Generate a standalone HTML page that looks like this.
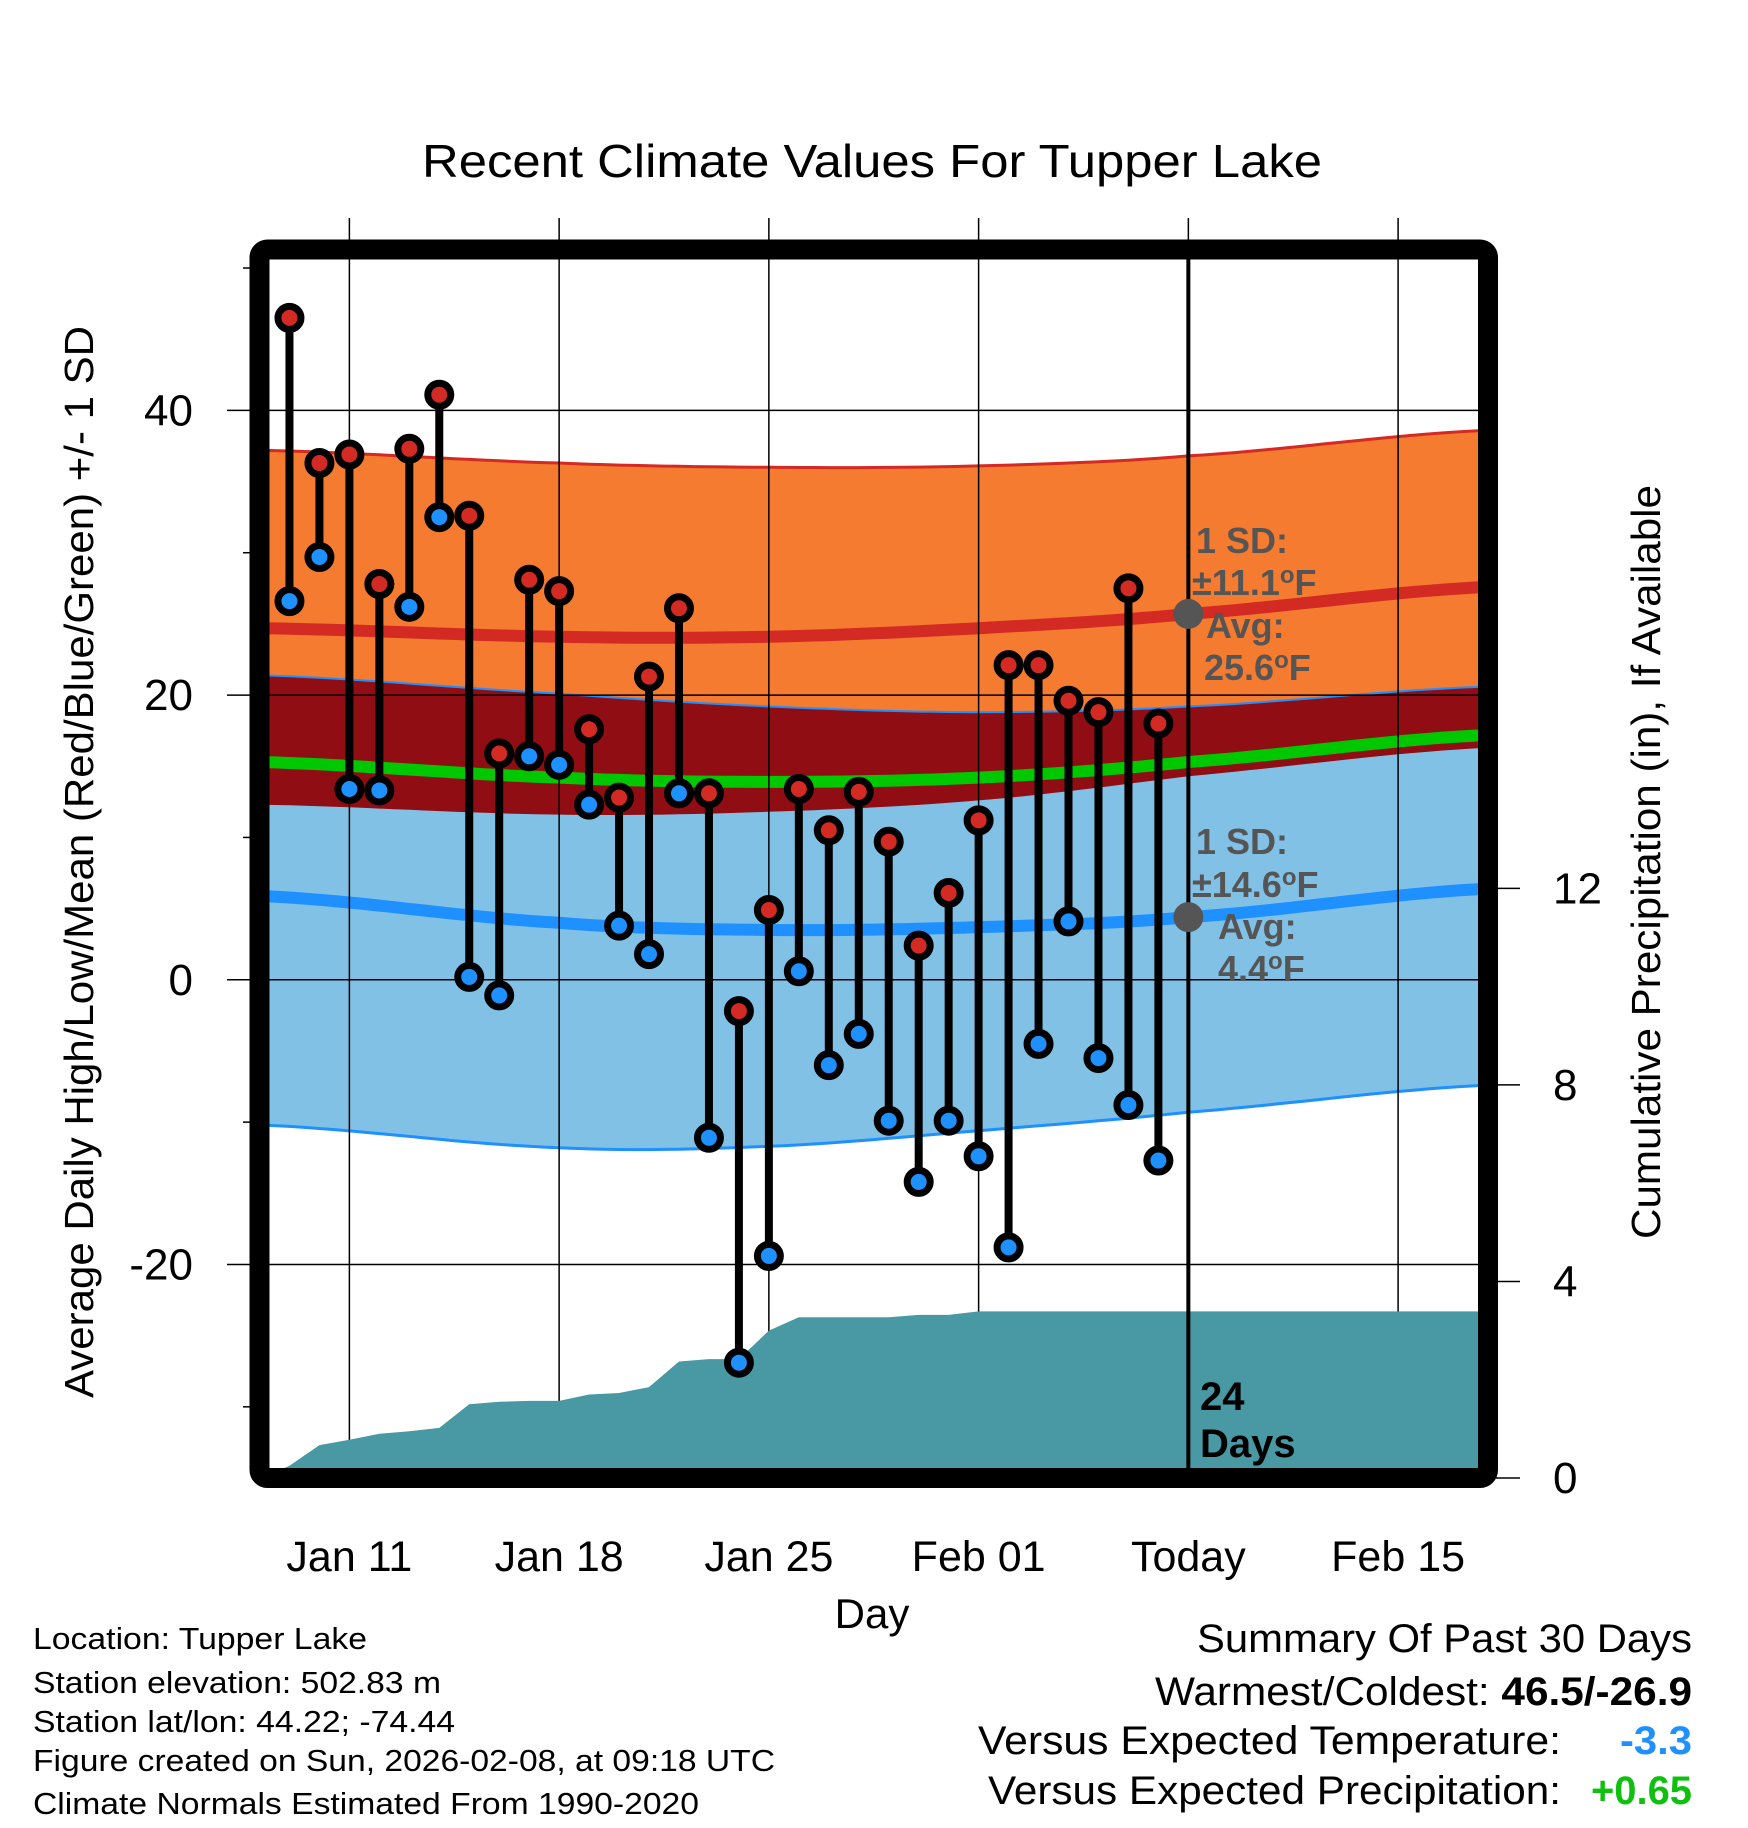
<!DOCTYPE html>
<html><head><meta charset="utf-8"><style>
html,body{margin:0;padding:0;background:#fff}
svg{display:block;font-family:"Liberation Sans",Arial,sans-serif}
</style></head><body>
<svg id="chart" width="1748" height="1828" viewBox="0 0 1748 1828" xmlns="http://www.w3.org/2000/svg">
<defs><clipPath id="plotclip"><rect x="259.5" y="249.5" width="1228.5" height="1228.5"/></clipPath></defs>
<g id="fills" clip-path="url(#plotclip)"></g>
<g id="grid"></g>
<g id="precip" clip-path="url(#plotclip)"></g>
<rect x="259.5" y="249.5" width="1228.5" height="1228.5" rx="8" fill="none" stroke="#000" stroke-width="20"/>
<g id="today"></g>
<g id="points"></g>
<g id="ticks"></g>
<text x="872" y="177" font-size="46" text-anchor="middle" textLength="900" lengthAdjust="spacingAndGlyphs">Recent Climate Values For Tupper Lake</text>
<text x="872" y="1628" font-size="42" text-anchor="middle">Day</text>
<text transform="translate(93,862) rotate(-90)" font-size="41" text-anchor="middle" textLength="1072" lengthAdjust="spacingAndGlyphs">Average Daily High/Low/Mean (Red/Blue/Green) +/- 1 SD</text>
<text transform="translate(1660,862) rotate(-90)" font-size="41" text-anchor="middle" textLength="754" lengthAdjust="spacingAndGlyphs">Cumulative Precipitation (in), If Available</text>
<g font-size="36" font-weight="bold" fill="#555">
<text x="1196" y="553">1 SD:</text><text x="1192" y="595">±11.1<tspan font-size="24" dy="-12">o</tspan><tspan dy="12">F</tspan></text>
<text x="1206" y="638">Avg:</text><text x="1204" y="680">25.6<tspan font-size="24" dy="-12">o</tspan><tspan dy="12">F</tspan></text></g>
<g font-size="36" font-weight="bold" fill="#555">
<text x="1196" y="854">1 SD:</text><text x="1192" y="897">±14.6<tspan font-size="24" dy="-12">o</tspan><tspan dy="12">F</tspan></text>
<text x="1218" y="939">Avg:</text><text x="1218" y="981">4.4<tspan font-size="24" dy="-12">o</tspan><tspan dy="12">F</tspan></text></g>
<g font-size="40" font-weight="bold" fill="#000">
<text x="1200" y="1410">24</text><text x="1200" y="1457">Days</text></g>
<g font-size="31" fill="#000">
<text x="33" y="1649" textLength="334" lengthAdjust="spacingAndGlyphs">Location: Tupper Lake</text>
<text x="33" y="1693" textLength="408" lengthAdjust="spacingAndGlyphs">Station elevation: 502.83 m</text>
<text x="33" y="1732" textLength="422" lengthAdjust="spacingAndGlyphs">Station lat/lon: 44.22; -74.44</text>
<text x="33" y="1771" textLength="742" lengthAdjust="spacingAndGlyphs">Figure created on Sun, 2026-02-08, at 09:18 UTC</text>
<text x="33" y="1814" textLength="666" lengthAdjust="spacingAndGlyphs">Climate Normals Estimated From 1990-2020</text></g>
<g font-size="40" fill="#000">
<text x="1197" y="1652" textLength="495" lengthAdjust="spacingAndGlyphs">Summary Of Past 30 Days</text>
<text x="1155" y="1705" textLength="537" lengthAdjust="spacingAndGlyphs">Warmest/Coldest: <tspan font-weight="bold">46.5/-26.9</tspan></text>
<text x="978" y="1754" textLength="583" lengthAdjust="spacingAndGlyphs">Versus Expected Temperature:</text>
<text x="1620" y="1754" font-weight="bold" fill="#1e90ff" textLength="72" lengthAdjust="spacingAndGlyphs">-3.3</text>
<text x="988" y="1804" textLength="573" lengthAdjust="spacingAndGlyphs">Versus Expected Precipitation:</text>
<text x="1591" y="1804" font-weight="bold" fill="#10c010" textLength="101" lengthAdjust="spacingAndGlyphs">+0.65</text></g>
</svg>
<script>
// day offsets relative to Jan 11
const highs=[46.5,36.3,36.9,27.8,37.3,41.1,32.6,15.9,28.1,27.3,17.6,12.8,21.3,26.1,13.1,-2.2,4.9,13.4,10.5,13.2,9.7,2.4,6.1,11.2,22.1,22.1,19.6,18.8,27.5,18.0];
const lows=[26.6,29.7,13.4,13.3,26.2,32.5,0.2,-1.1,15.7,15.1,12.3,3.8,1.8,13.1,-11.1,-26.9,-19.4,0.6,-6.0,-3.8,-9.9,-14.2,-9.9,-12.4,-18.8,-4.5,4.1,-5.5,-8.8,-12.7];
const precip=[0.25,0.67,0.78,0.9,0.95,1.02,1.5,1.55,1.57,1.57,1.7,1.73,1.85,2.37,2.42,2.42,3.0,3.27,3.27,3.27,3.27,3.32,3.32,3.39,3.39,3.39,3.39,3.39,3.39,3.39];
const normDays=[-3,7,14,21,28,38];
const highUpper=[37.2,36.3,36.0,36.1,36.8,38.6];
const highAvg=[24.7,24.1,24.1,24.7,25.7,27.6];
const lowUpper=[21.4,20.1,19.2,18.8,19.2,20.6];
const meanAvg=[15.3,14.2,13.9,14.2,15.3,17.2];
const highLower=[12.3,11.6,11.8,12.6,14.3,16.3];
const lowAvg=[5.9,4.0,3.5,3.7,4.4,6.4];
const lowLower=[-10.2,-11.8,-11.7,-10.6,-9.3,-7.4];
const xTickDays=[0,7,14,21,28,35];
const xTickLabels=["Jan 11","Jan 18","Jan 25","Feb 01","Today","Feb 15"];
const yTicks=[40,20,0,-20];
const yMinor=[50,30,10,-10,-30];
const pTicks=[0,4,8,12];
const firstDay=-2, todayDay=28;

const NS="http://www.w3.org/2000/svg";
const X=d=>259.5+(d+3)*29.963;
const Y=t=>1478-(t+35)*14.235;
const P=v=>1478-v*49.14;
function mk(tag,attrs,parent){const e=document.createElementNS(NS,tag);for(const k in attrs)e.setAttribute(k,attrs[k]);parent.appendChild(e);return e;}
function interp(arr,d){for(let i=0;i<normDays.length-1;i++){if(d<=normDays[i+1]){const a=normDays[i],b=normDays[i+1];let t=(d-a)/(b-a);
const p0=arr[Math.max(i-1,0)],p1=arr[i],p2=arr[i+1],p3=arr[Math.min(i+2,arr.length-1)];
const t2=t*t,t3=t2*t;return 0.5*((2*p1)+(-p0+p2)*t+(2*p0-5*p1+4*p2-p3)*t2+(-p0+3*p1-3*p2+p3)*t3);}}return arr[arr.length-1];}
function pts(arr){const r=[];for(let d=-3;d<=38.01;d+=0.5)r.push([X(d),Y(interp(arr,d))]);return r;}
function line(arr){return pts(arr).map((p,i)=>(i?'L':'M')+p[0].toFixed(1)+' '+p[1].toFixed(1)).join(' ');}
function band(up,lo){const a=pts(up),b=pts(lo).reverse();return a.concat(b).map((p,i)=>(i?'L':'M')+p[0].toFixed(1)+' '+p[1].toFixed(1)).join(' ')+'Z';}
const fills=document.getElementById('fills');
let e;
e=mk('path',{d:band(highUpper,highLower),fill:'#f47b30'},fills);


e=mk('path',{d:band(lowUpper,lowLower),fill:'#82c1e6'},fills);


e=mk('path',{d:band(lowUpper,highLower),fill:'#900d14'},fills);


e=mk('path',{d:line(highUpper),fill:'none',stroke:'#d42a24',"stroke-width":3},fills);


e=mk('path',{d:line(lowUpper),fill:'none',stroke:'#1e90ff',"stroke-width":2},fills);


e=mk('path',{d:line(lowLower),fill:'none',stroke:'#1e90ff',"stroke-width":3},fills);


e=mk('path',{d:line(highAvg),fill:'none',stroke:'#d42a24',"stroke-width":12},fills);


e=mk('path',{d:line(meanAvg),fill:'none',stroke:'#00c800',"stroke-width":12},fills);


e=mk('path',{d:line(lowAvg),fill:'none',stroke:'#1e90ff',"stroke-width":12},fills);



const grid=document.getElementById('grid');
xTickDays.forEach(d=>{e=mk('line',{x1:X(d),x2:X(d),y1:218,y2:1478,stroke:'#000',"stroke-width":1.5},grid);

});
yTicks.forEach(t=>{e=mk('line',{x1:227,x2:1488,y1:Y(t),y2:Y(t),stroke:'#000',"stroke-width":1.5},grid);

});

let pd='M'+X(firstDay-0.9).toFixed(1)+' '+P(0);
precip.forEach((v,i)=>{pd+=' L'+X(firstDay+i).toFixed(1)+' '+P(v).toFixed(1);});
pd+=' L'+X(firstDay+precip.length-1+0.7).toFixed(1)+' '+P(precip[precip.length-1]).toFixed(1);
pd+=' L1500 '+P(precip[precip.length-1]).toFixed(1)+' L1500 1490 L'+X(firstDay-0.9).toFixed(1)+' 1490Z';
e=mk('path',{d:pd,fill:'#4899a3'},document.getElementById('precip'));



const tg=document.getElementById('today');
e=mk('line',{x1:X(todayDay),x2:X(todayDay),y1:255,y2:1470,stroke:'#000',"stroke-width":4},tg);


e=mk('circle',{cx:X(todayDay),cy:Y(interp(highAvg,todayDay)),r:15,fill:'#555'},tg);


e=mk('circle',{cx:X(todayDay),cy:Y(interp(lowAvg,todayDay)),r:15,fill:'#555'},tg);



const pg=document.getElementById('points');
highs.forEach((h,i)=>{const x=X(firstDay+i),l=lows[i];
e=mk('line',{x1:x,x2:x,y1:Y(h),y2:Y(l),stroke:'#000',"stroke-width":8},pg);


e=mk('circle',{cx:x,cy:Y(l),r:11.5,fill:'#1e90ff',stroke:'#000',"stroke-width":7},pg);


e=mk('circle',{cx:x,cy:Y(h),r:11.5,fill:'#d42a24',stroke:'#000',"stroke-width":7},pg);

});

const tk=document.getElementById('ticks');
xTickDays.forEach((d,i)=>{e=mk('text',{x:X(d),y:1571,"font-size":43,"text-anchor":"middle"},tk);e.textContent=xTickLabels[i];

});
yTicks.forEach(t=>{e=mk('text',{x:193,y:Y(t)+15,"font-size":44,"text-anchor":"end"},tk);e.textContent=t;

});
yMinor.forEach(t=>{e=mk('line',{x1:243,x2:255,y1:Y(t),y2:Y(t),stroke:'#000',"stroke-width":1.5},tk);

});
pTicks.forEach(v=>{e=mk('line',{x1:1492,x2:1520,y1:P(v),y2:P(v),stroke:'#000',"stroke-width":1.5},tk);


e=mk('text',{x:1553,y:P(v)+15,"font-size":44,"text-anchor":"start"},tk);e.textContent=v;

});
</script>
</body></html>
